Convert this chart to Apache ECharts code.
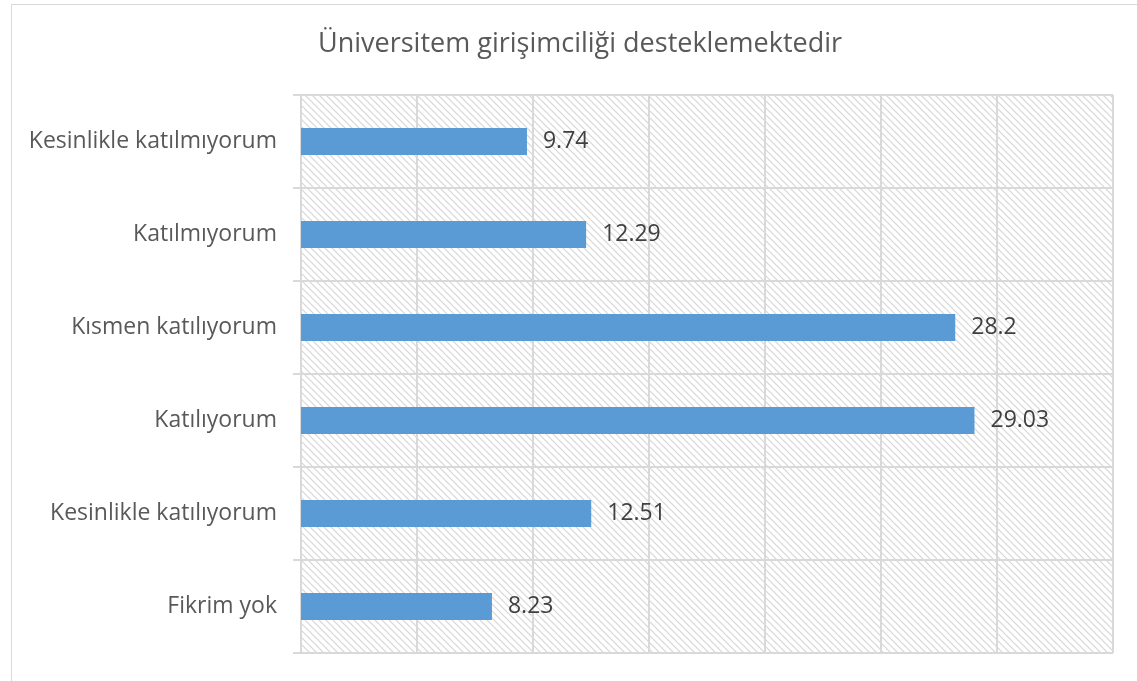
<!DOCTYPE html>
<html>
<head>
<meta charset="utf-8">
<script src="https://cdn.jsdelivr.net/npm/echarts@6/dist/echarts.min.js"></script>
<style>
  html, body { margin: 0; padding: 0; background: #fff; }
  #chart { width: 1137px; height: 681px; }
</style>
</head>
<body>
<div id="chart"></div>
<script>
const titleText = 'Üniversitem girişimciliği desteklemektedir';
const categories = ['Fikrim yok', 'Kesinlikle katılıyorum', 'Katılıyorum', 'Kısmen katılıyorum', 'Katılmıyorum', 'Kesinlikle katılmıyorum'];
const values = [8.23, 12.51, 29.03, 28.2, 12.29, 9.74];

// diagonal hatch for the plot background
function makeHatch() {
    let c = document.createElement('canvas');
    c.width = 7;
    c.height = 7;
    let ctx = c.getContext('2d');
    ctx.strokeStyle = '#d6d6d6';
    ctx.lineWidth = 1.2;
    ctx.beginPath();
    ctx.moveTo(-1, -1); ctx.lineTo(8, 8);
    ctx.moveTo(-1, 6); ctx.lineTo(1, 8);
    ctx.moveTo(6, -1); ctx.lineTo(8, 1);
    ctx.stroke();
    return c;
}

let myChart = echarts.init(document.getElementById('chart'), null, { renderer: 'canvas' });
let option = {
    animation: false,
    title: {
        text: titleText,
        left: 313,
        top: 26,
        textStyle: { fontFamily: 'Open Sans', fontSize: 27, fontWeight: 'normal', color: '#595959' }
    },
    graphic: [{
        type: 'rect',
        left: 9, top: 2,
        shape: { width: 1140, height: 700 },
        style: { fill: 'none', stroke: '#d9d9d9', lineWidth: 1 },
        silent: true
    }],
    grid: {
        left: 301, right: 24, top: 95, bottom: 28,
        show: true,
        borderWidth: 0,
        backgroundColor: { image: makeHatch(), repeat: 'repeat' }
    },
    xAxis: {
        type: 'value',
        min: 0, max: 35, interval: 5,
        axisLabel: { show: false },
        axisLine: { show: false },
        axisTick: { show: false },
        splitLine: { show: true, lineStyle: { color: '#d9d9d9', width: 2 } }
    },
    yAxis: {
        type: 'category',
        data: categories,
        axisLine: { show: true, lineStyle: { color: '#d9d9d9', width: 2 } },
        axisTick: { show: true, length: 8, lineStyle: { color: '#d9d9d9', width: 2 } },
        axisLabel: { fontFamily: 'Open Sans', fontSize: 23, color: '#595959', margin: 24 },
        splitLine: { show: true, lineStyle: { color: '#d9d9d9', width: 2 } }
    },
    series: [{
        type: 'bar',
        data: values,
        barWidth: 27,
        itemStyle: { color: '#5b9bd5' },
        label: {
            show: true,
            position: 'right',
            distance: 16,
            fontFamily: 'Open Sans',
            fontSize: 23,
            color: '#404040'
        }
    }]
};
option && myChart.setOption(option);
</script>
</body>
</html>
